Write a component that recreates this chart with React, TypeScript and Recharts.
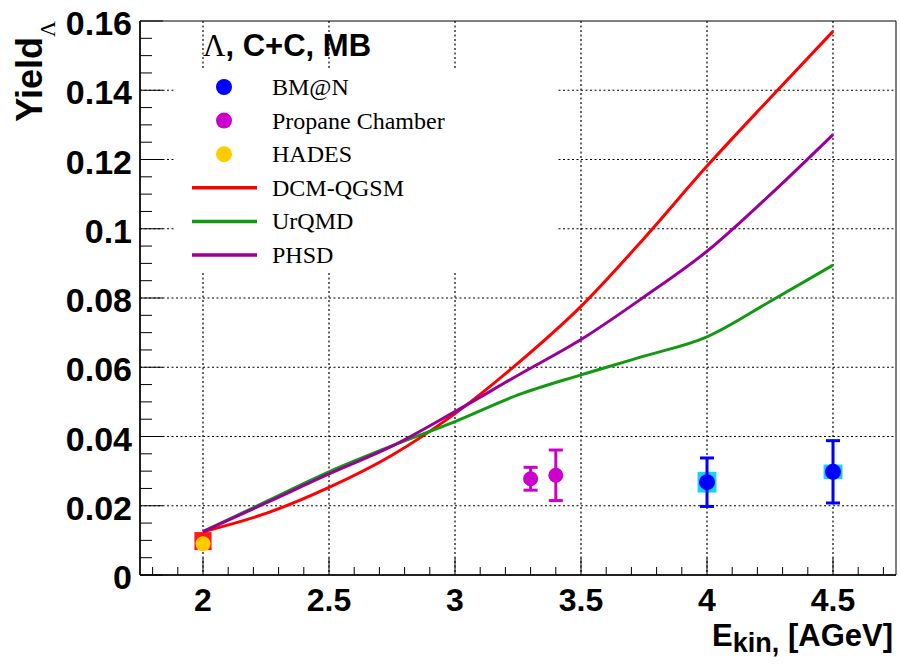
import React from "react";
import {
  ComposedChart,
  Line,
  Scatter,
  ErrorBar,
  XAxis,
  YAxis,
  CartesianGrid,
  ReferenceArea,
} from "recharts";

// model curves (beam energy in AGeV)
const energies = [2, 2.25, 2.5, 2.75, 3, 3.25, 3.5, 3.75, 4, 4.25, 4.5];
const dcmQgsm = [0.0125, 0.0178, 0.0253, 0.0346, 0.0466, 0.0612, 0.0776, 0.0972, 0.1181, 0.1377, 0.157];
const urqmd = [0.0125, 0.0212, 0.0298, 0.0373, 0.0443, 0.052, 0.0578, 0.0632, 0.0688, 0.079, 0.0895];
const phsd = [0.0125, 0.0208, 0.0292, 0.0372, 0.0472, 0.0577, 0.068, 0.0803, 0.0935, 0.1098, 0.1272];

// BM@N
const bmnX = [4, 4.5];
const bmnY = [0.0268, 0.0298];
const bmnStat = [0.007, 0.009];
const bmnSys = [0.003, 0.0021];

// Propane chamber
const propaneX = [3.3, 3.4];
const propaneY = [0.0278, 0.0288];
const propaneErr = [0.0033, 0.0073];

// HADES
const hadesX = [2];
const hadesY = [0.009];
const hadesSysLo = [0.0072];
const hadesSysHi = [0.0124];

const xTickLabels = [2, 2.5, 3, 3.5, 4, 4.5];
const yTickLabels = [0, 0.02, 0.04, 0.06, 0.08, 0.1, 0.12, 0.14, 0.16];

const X_MIN = 1.75;
const X_MAX = 4.75;
const Y_MAX = 0.16;
const SYS_HALF_W = 0.0375;

const SANS = "'Liberation Sans', Arial, sans-serif";
const SERIF = "'Liberation Serif', 'Times New Roman', serif";

// minor ticks (0.1 on x, 0.005 on y)
const xTicks: number[] = [];
for (let i = 0; i <= 29; i++) xTicks.push(Math.round((1.8 + i * 0.1) * 10) / 10);
const yTicks: number[] = [];
for (let i = 0; i <= 32; i++) yTicks.push(Math.round(i * 5) / 1000);

const isIn = (list: number[], v: number) => list.some((t) => Math.abs(t - v) < 1e-6);

const curve = (ys: number[]) => energies.map((x, i) => ({ x, y: ys[i] }));
const bmnData = bmnX.map((x, i) => ({ x, y: bmnY[i], err: bmnStat[i] }));
const propaneData = propaneX.map((x, i) => ({ x, y: propaneY[i], err: propaneErr[i] }));
const hadesData = hadesX.map((x, i) => ({ x, y: hadesY[i] }));

const dot = (color: string, r: number) => (p: any) => (
  <circle cx={p.cx} cy={p.cy} r={r} fill={color} />
);

function XTick({ x, y, payload }: any) {
  const v = payload.value;
  const major = isIn(xTickLabels, v);
  return (
    <g>
      <line x1={x} x2={x} y1={y} y2={y - (major ? 17 : 8)} stroke="#000" strokeWidth={1} />
      {major && (
        <text x={x} y={y + 36} textAnchor="middle" fontFamily={SANS} fontWeight="bold" fontSize={32} fill="#000">
          {String(v)}
        </text>
      )}
    </g>
  );
}

function YTick({ x, y, payload }: any) {
  const v = payload.value;
  const major = isIn(yTickLabels, v);
  return (
    <g>
      <line x1={x} x2={x + (major ? 23 : 12)} y1={y} y2={y} stroke="#000" strokeWidth={1} />
      {major && (
        <text x={x - 8} y={y + 14} textAnchor="end" fontFamily={SANS} fontWeight="bold" fontSize={34} fill="#000">
          {String(Number(v.toFixed(3)))}
        </text>
      )}
    </g>
  );
}

const legendRows = [
  { name: "BM@N", color: "#0000ff", kind: "dot" },
  { name: "Propane Chamber", color: "#cc00cc", kind: "dot" },
  { name: "HADES", color: "#ffcc00", kind: "dot" },
  { name: "DCM-QGSM", color: "#ff0000", kind: "line" },
  { name: "UrQMD", color: "#119911", kind: "line" },
  { name: "PHSD", color: "#990099", kind: "line" },
];

function Overlay() {
  return (
    <svg width={900} height={670} style={{ position: "absolute", left: 0, top: 0, pointerEvents: "none" }}>
      {/* legend box */}
      <rect x={175} y={68} width={382} height={205} fill="#fff" />
      <text x={203} y={56} fontSize={31} fill="#000">
        <tspan fontFamily={SERIF}>Λ</tspan>
        <tspan fontFamily={SANS} fontWeight="bold">, C+C, MB</tspan>
      </text>
      {legendRows.map((r, i) => {
        const cy = 87 + i * 33.6;
        return (
          <g key={r.name}>
            {r.kind === "dot" ? (
              <circle cx={224} cy={cy} r={8} fill={r.color} />
            ) : (
              <line x1={192} x2={257} y1={cy} y2={cy} stroke={r.color} strokeWidth={3.5} />
            )}
            <text x={272} y={cy + 8} fontFamily={SERIF} fontSize={24} fill="#000">
              {r.name}
            </text>
          </g>
        );
      })}
      {/* axis titles */}
      <text transform="translate(42,21) rotate(-90)" textAnchor="end" fontFamily={SANS} fontWeight="bold" fontSize={36} fill="#000">
        Yield
        <tspan dy={13} fontFamily={SERIF} fontWeight="normal" fontSize={22}>Λ</tspan>
      </text>
      <text x={893} y={646} textAnchor="end" fontFamily={SANS} fontWeight="bold" fontSize={31} fill="#000">
        E
        <tspan dy={6} fontSize={27}>kin,</tspan>
        <tspan dy={-6}> [AGeV]</tspan>
      </text>
    </svg>
  );
}

export default function App() {
  return (
    <div style={{ position: "absolute", left: 0, top: 0, width: 900, height: 670, background: "#fff" }}>
      <ComposedChart width={900} height={670} margin={{ top: 21, right: 4, bottom: 0, left: 0 }}>
        <CartesianGrid
          stroke="#000"
          strokeWidth={1.2}
          strokeDasharray="2 2.5"
          verticalValues={xTickLabels}
          horizontalValues={yTickLabels.slice(1, -1)}
        />
        <XAxis
          type="number"
          dataKey="x"
          domain={[X_MIN, X_MAX]}
          ticks={xTicks}
          interval={0}
          height={95}
          tickSize={0}
          tickMargin={0}
          tickLine={false}
          axisLine={{ stroke: "#000", strokeWidth: 1.5 }}
          tick={<XTick />}
          allowDataOverflow
        />
        <YAxis
          type="number"
          domain={[0, Y_MAX]}
          ticks={yTicks}
          interval={0}
          width={140}
          tickSize={0}
          tickMargin={0}
          tickLine={false}
          axisLine={{ stroke: "#000", strokeWidth: 1.5 }}
          tick={<YTick />}
          allowDataOverflow
        />
        <ReferenceArea x1={X_MIN} x2={X_MAX} y1={0} y2={Y_MAX} fill="none" stroke="#000" strokeWidth={1} />
        {hadesX.map((x, i) => (
          <ReferenceArea key={"h" + i} x1={x - 0.034} x2={x + 0.034} y1={hadesSysLo[i]} y2={hadesSysHi[i]} fill="#ff0000" fillOpacity={0.9} stroke="none" />
        ))}
        {bmnX.map((x, i) => (
          <ReferenceArea key={"b" + i} x1={x - SYS_HALF_W} x2={x + SYS_HALF_W} y1={bmnY[i] - bmnSys[i]} y2={bmnY[i] + bmnSys[i]} fill="#00ccff" fillOpacity={0.9} stroke="none" />
        ))}
        <Line data={curve(dcmQgsm)} dataKey="y" type="monotone" stroke="#ff0000" strokeWidth={3} dot={false} isAnimationActive={false} />
        <Line data={curve(urqmd)} dataKey="y" type="monotone" stroke="#119911" strokeWidth={3} dot={false} isAnimationActive={false} />
        <Line data={curve(phsd)} dataKey="y" type="monotone" stroke="#990099" strokeWidth={3} dot={false} isAnimationActive={false} />
        <Scatter data={propaneData} dataKey="y" shape={dot("#cc00cc", 7.5)} isAnimationActive={false}>
          <ErrorBar dataKey="err" direction="y" width={7} strokeWidth={3} stroke="#cc00cc" />
        </Scatter>
        <Scatter data={bmnData} dataKey="y" shape={dot("#0000ff", 8)} isAnimationActive={false}>
          <ErrorBar dataKey="err" direction="y" width={7} strokeWidth={3} stroke="#0000ff" />
        </Scatter>
        <Scatter data={hadesData} dataKey="y" shape={dot("#ffcc00", 7.5)} isAnimationActive={false} />
      </ComposedChart>
      <Overlay />
    </div>
  );
}
